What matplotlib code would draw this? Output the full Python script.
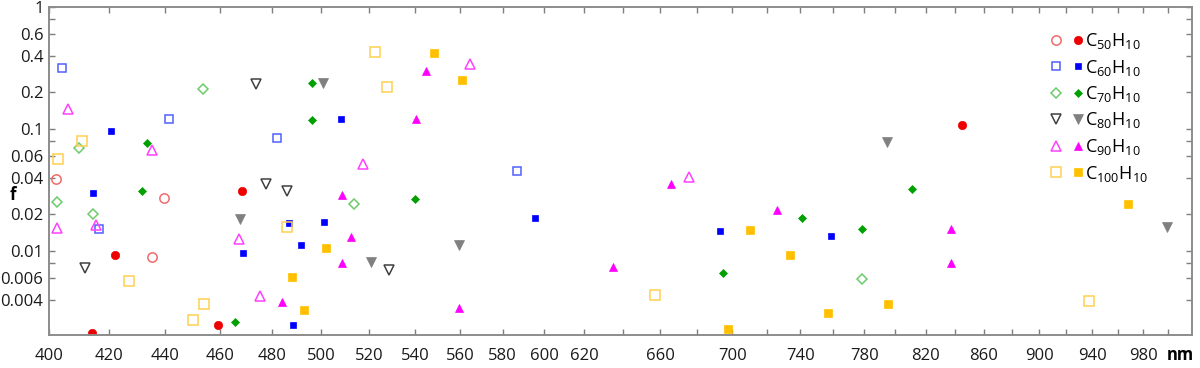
import numpy as np
import matplotlib
matplotlib.use("Agg")
import matplotlib.pyplot as plt
from matplotlib.ticker import FixedLocator, FixedFormatter, NullLocator
from matplotlib.legend_handler import HandlerTuple

plt.rcParams['font.family'] = ['Open Sans', 'DejaVu Sans']
plt.rcParams['mathtext.fontset'] = 'custom'
plt.rcParams['mathtext.rm'] = 'Open Sans'

# wavelength (nm) and oscillator strength f, open = one set, filled = other set
c50_open_nm = [402.3, 439.5, 435.1]
c50_open_f = [0.0387, 0.0270, 0.0089]
c50_fill_nm = [414.4, 422.3, 459.3, 468.5, 845.1]
c50_fill_f = [0.00214, 0.0092, 0.00246, 0.0312, 0.108]

c60_open_nm = [404.3, 416.7, 441.2, 482.1, 587.0]
c60_open_f = [0.314, 0.0152, 0.121, 0.0844, 0.0455]
c60_fill_nm = [420.7, 414.7, 469.0, 487.0, 491.7, 501.2, 488.6, 508.0, 595.6, 693.0, 759.1]
c60_fill_f = [0.0969, 0.0301, 0.0097, 0.0169, 0.0111, 0.0174, 0.00246, 0.121, 0.0185, 0.0145, 0.0132]

c70_open_nm = [402.7, 410.0, 414.8, 453.7, 513.5, 778.2]
c70_open_f = [0.0251, 0.0703, 0.0201, 0.2115, 0.0242, 0.0059]
c70_fill_nm = [433.3, 431.8, 465.9, 496.2, 496.2, 540.0, 694.6, 741.2, 778.4, 810.8]
c70_fill_f = [0.0764, 0.0312, 0.00263, 0.240, 0.119, 0.0268, 0.0066, 0.0185, 0.0151, 0.0320]

c80_open_nm = [411.9, 473.9, 477.8, 486.2, 528.4]
c80_open_f = [0.0073, 0.234, 0.0354, 0.0312, 0.0070]
c80_fill_nm = [467.7, 500.5, 520.8, 559.5, 794.4, 999.6]
c80_fill_f = [0.0183, 0.237, 0.0082, 0.0112, 0.0778, 0.0158]

c90_open_nm = [406.2, 402.7, 415.7, 435.2, 467.5, 475.4, 517.3, 564.7, 675.6]
c90_open_f = [0.147, 0.0154, 0.0164, 0.0673, 0.0125, 0.0043, 0.0517, 0.339, 0.0402]
c90_fill_nm = [484.2, 508.6, 508.4, 512.2, 544.8, 540.3, 559.5, 635.0, 665.7, 726.0, 837.3, 837.3]
c90_fill_f = [0.0038, 0.0288, 0.0080, 0.0130, 0.301, 0.1215, 0.0034, 0.0074, 0.0354, 0.0217, 0.0152, 0.0080]

c100_open_nm = [403.1, 411.0, 427.0, 450.1, 454.3, 486.2, 522.5, 527.6, 657.1, 937.5]
c100_open_f = [0.0571, 0.0802, 0.0057, 0.00273, 0.0037, 0.0156, 0.430, 0.221, 0.0044, 0.0039]
c100_fill_nm = [488.2, 493.0, 501.9, 548.3, 560.9, 697.7, 710.2, 733.9, 756.9, 795.2, 967.7]
c100_fill_f = [0.0061, 0.0033, 0.0105, 0.417, 0.252, 0.00228, 0.0148, 0.0092, 0.0031, 0.0037, 0.0244]

labels = [r'C$_{50}$H$_{10}$', r'C$_{60}$H$_{10}$', r'C$_{70}$H$_{10}$',
          r'C$_{80}$H$_{10}$', r'C$_{90}$H$_{10}$', r'C$_{100}$H$_{10}$']

x_ticks = list(range(400, 1001, 20))
x_labels = [str(t) if (t <= 620 or (t >= 660 and (t - 660) % 40 == 0 and t < 1000)) else '' for t in x_ticks]
y_ticks = [0.004, 0.006, 0.008, 0.01, 0.02, 0.04, 0.06, 0.08, 0.1, 0.2, 0.4, 0.6, 0.8, 1]
y_labels = ['0.004', '0.006', '', '0.01', '0.02', '0.04', '0.06', '', '0.1', '0.2', '0.4', '0.6', '', '1']

fig = plt.figure(figsize=(12, 3.68), dpi=100)
ax = fig.add_axes([49 / 1200, 1 - 335 / 368, 1143 / 1200, 328 / 368])

series = [
    (c50_open_nm, c50_open_f, c50_fill_nm, c50_fill_f, 'o', '#f26b6b', '#ee0000', 6.7, 6.0),
    (c60_open_nm, c60_open_f, c60_fill_nm, c60_fill_f, 's', '#5060ff', '#0000ff', 6.0, 4.6),
    (c70_open_nm, c70_open_f, c70_fill_nm, c70_fill_f, 'D', '#6ccc6c', '#00a000', 5.2, 4.2),
    (c80_open_nm, c80_open_f, c80_fill_nm, c80_fill_f, 'v', '#404040', '#808080', 7.2, 6.5),
    (c90_open_nm, c90_open_f, c90_fill_nm, c90_fill_f, '^', '#ff40ff', '#ff00ff', 7.2, 6.0),
    (c100_open_nm, c100_open_f, c100_fill_nm, c100_fill_f, 's', '#ffd050', '#ffc000', 7.2, 6.0),
]

handles = []
for onm, of, fnm, ff, mk, oc, fc, os_, fs in series:
    h1, = ax.plot(onm, of, linestyle='none', marker=mk, markersize=os_,
                  markerfacecolor='none', markeredgecolor=oc, markeredgewidth=1.1)
    h2, = ax.plot(fnm, ff, linestyle='none', marker=mk, markersize=fs,
                  markerfacecolor=fc, markeredgecolor=fc, markeredgewidth=0.5)
    handles.append((h1, h2))

ax.set_xscale('log')
ax.set_yscale('log')
ax.set_xlim(400, 1020)
ax.set_ylim(0.00205, 1)

ax.xaxis.set_major_locator(FixedLocator(x_ticks))
ax.xaxis.set_major_formatter(FixedFormatter(x_labels))
ax.xaxis.set_minor_locator(NullLocator())
ax.yaxis.set_major_locator(FixedLocator(y_ticks))
ax.yaxis.set_major_formatter(FixedFormatter(y_labels))
ax.yaxis.set_minor_locator(NullLocator())

ax.tick_params(axis='both', direction='in', length=4, width=1, color='#7f7f7f',
               labelsize=12, labelcolor='#1a1a1a', top=True, right=True)
ax.tick_params(axis='x', pad=9)
ax.tick_params(axis='y', pad=4)
for s in ax.spines.values():
    s.set_color('#8c8c8c')
    s.set_linewidth(1.4)

ax.text(-0.032, (335 - 195) / 328, 'f', transform=ax.transAxes, fontsize=12,
        fontweight='bold', ha='center', va='center')
ax.text(0.99, -0.062, 'nm', transform=ax.transAxes, fontsize=12,
        fontweight='bold', ha='center', va='center')

ax.legend(handles, labels, handler_map={tuple: HandlerTuple(ndivide=None, pad=0.5)},
          loc='upper left', bbox_to_anchor=((1050 - 49) / 1143, (335 - 31) / 328),
          frameon=False, fontsize=13, handlelength=1.9, handletextpad=0.05,
          labelspacing=0.36, borderpad=0, borderaxespad=0)

fig.savefig('out.png', dpi=100)
